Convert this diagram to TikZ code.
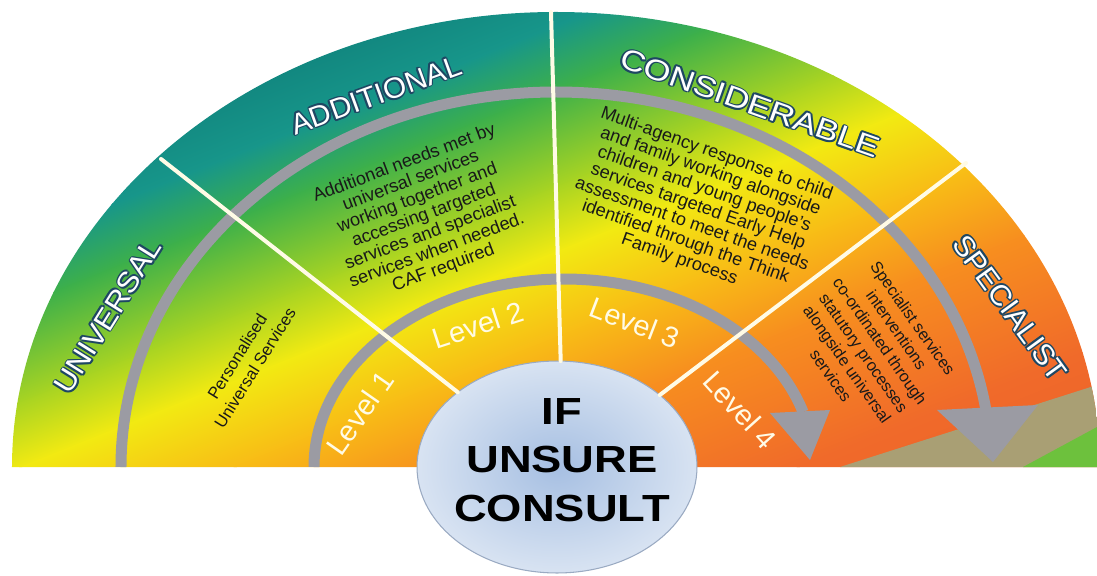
\documentclass[tikz,border=0pt]{standalone}
\usepackage{fontspec}
\setmainfont{Liberation Sans}
\usepackage{graphicx}
\usetikzlibrary{shapes.geometric}

\definecolor{fanteal}{HTML}{11857E}
\definecolor{fanteal2}{HTML}{17968A}
\definecolor{fangreen}{HTML}{3DB04A}
\definecolor{fanlime}{HTML}{A9D422}
\definecolor{fanyellow}{HTML}{F2EA12}
\definecolor{fanamber}{HTML}{F8BC16}
\definecolor{fanorange}{HTML}{F78E1F}
\definecolor{fanred}{HTML}{F06A2A}
\definecolor{fanred2}{HTML}{EC5E2A}
\definecolor{fanolive}{HTML}{A99F74}
\definecolor{fangrass}{HTML}{6DC13D}
\definecolor{arcgray}{HTML}{9B9BA3}
\definecolor{divwhite}{HTML}{FFFBE6}
\definecolor{lbledge}{HTML}{1E4763}
\definecolor{hubin}{HTML}{A6BFE2}
\definecolor{hubout}{HTML}{D8E3F2}
\definecolor{hubedge}{HTML}{9AAAC2}

% white capitals with a dark rim
\newcommand{\bandtext}[1]{%
  \rlap{\kern0.9pt\textcolor{lbledge}{#1}}%
  \rlap{\kern-0.9pt\textcolor{lbledge}{#1}}%
  \rlap{\raisebox{0.9pt}{\textcolor{lbledge}{#1}}}%
  \rlap{\raisebox{-0.9pt}{\textcolor{lbledge}{#1}}}%
  \rlap{\kern0.65pt\raisebox{0.65pt}{\textcolor{lbledge}{#1}}}%
  \rlap{\kern-0.65pt\raisebox{0.65pt}{\textcolor{lbledge}{#1}}}%
  \rlap{\kern0.65pt\raisebox{-0.65pt}{\textcolor{lbledge}{#1}}}%
  \rlap{\kern-0.65pt\raisebox{-0.65pt}{\textcolor{lbledge}{#1}}}%
  \textcolor{white}{#1}}
\newcommand{\hubwide}[1]{\scalebox{1.2}[1]{#1}}

\begin{document}
\begin{tikzpicture}[x=0.02cm,y=0.02cm,line cap=round,
    bandlbl/.style={inner sep=0pt,font=\fontsize{16.5}{18}\selectfont},
    bodytxt/.style={inner sep=0pt,align=center,text=black!90,font=\fontsize{10.3}{10.6}\selectfont},
    smalltxt/.style={inner sep=0pt,align=center,text=black!90,font=\fontsize{9.3}{11.4}\selectfont},
    lvl/.style={inner sep=0pt,text=divwhite,font=\fontsize{16.5}{18}\selectfont},
    grayarc/.style={arcgray,line width=0.22cm,line cap=butt},
    divider/.style={divwhite,line width=0.08cm}]
  % fix the size of the picture
  \useasboundingbox (-556,-108) rectangle (541,467);
  % colour the fan
  \begin{scope}
    \clip (-544,0) arc[start angle=180,end angle=0,x radius=544,y radius=455] -- cycle;
    \begin{scope}[transform canvas={rotate=-68.1}]
      \foreach \ua/\ub/\ca/\cb in {
          -480/-410/fanteal/fanteal2,
          -410/-350/fanteal2/fangreen,
          -350/-260/fangreen/fanlime,
          -260/-200/fanlime/fanyellow,
          -200/-120/fanyellow/fanamber,
          -120/-40/fanamber/fanorange,
          -40/90/fanorange/fanred,
          90/240/fanred/fanred2}
        \shade[left color=\ca,right color=\cb] (\ua,-700) rectangle (\ub+1,700);
    \end{scope}
    % odd patch at the bottom right
    \fill[fanolive] (284,0) -- (541,82) -- (570,82) -- (570,0) -- cycle;
    \fill[fangrass] (467,0) -- (541,40) -- (570,40) -- (570,0) -- cycle;
  \end{scope}

  % gray arrows round the fan
  \draw[grayarc] (-435,0) arc[start angle=180,end angle=8.7,x radius=435,y radius=375];
  \fill[arcgray] (381,57) -- (482,62) -- (437,5) -- cycle;
  \draw[grayarc] (-242,0) arc[start angle=180,end angle=17,x radius=250,y radius=188];
  \fill[arcgray] (214,54) -- (274,57) -- (254,7) -- cycle;

  % the hub
  \node[ellipse,minimum width=5.6cm,minimum height=4.24cm,inner sep=0pt,outer sep=0pt,
        draw=hubedge,line width=0.6pt,inner color=hubin,outer color=hubout] (hub) at (1,0) {};
  \node[inner sep=0pt,align=center,font=\fontsize{21.5}{27.6}\selectfont\bfseries] (hubtext) at (6,7)
    {\hubwide{IF}\\\hubwide{UNSURE}\\\hubwide{CONSULT}};

  % dividers between the bands
  \coordinate (rimA) at (-395,308);
  \coordinate (rimB) at (-5,455);
  \coordinate (rimC) at (410,304);
  \draw[divider] (rimA) -- (hub.143);
  \draw[divider] (rimB) -- (hub.88);
  \draw[divider] (rimC) -- (hub.35);

  % band names
  \foreach \nm/\x/\y/\a/\s/\txt in {
      univ/-448/151/58/1.07/UNIVERSAL,
      addl/-180/372/20/1.03/ADDITIONAL,
      cons/194/364/-19.5/1.2/CONSIDERABLE,
      spec/454/159/-54/1.03/SPECIALIST}
    \node[bandlbl,rotate=\a] (\nm) at (\x,\y) {\scalebox{\s}[1]{\bandtext{\txt}}};

  % levels
  \foreach \n/\x/\y/\a in {1/-196/54/55,2/-78/142/18,3/79/144/-21,4/184/57/-48}
    \node[lvl,rotate=\a] (lvl\n) at (\x,\y) {Level \n};

  % what each band means
  \node[smalltxt,rotate=58,font=\fontsize{9.5}{12}\selectfont] (univtxt) at (-310,105)
    {Personalised\\Universal Services};
  \node[bodytxt,rotate=20.5] (addltxt) at (-132,251)
    {Additional needs met by\\universal services\\working together and\\accessing targeted\\services and specialist\\services when needed.\\CAF required};
  \node[bodytxt,rotate=-19.5] (constxt) at (142,260)
    {Multi-agency response to child\\and family working alongside\\children and young people's\\services targeted Early Help\\assessment to meet the needs\\identified through the Think\\Family process};
  \node[smalltxt,rotate=-55] (spectxt) at (316,120)
    {Specialist services\\interventions\\co-ordinated through\\statutory processes\\alongside universal\\services};
\end{tikzpicture}
\end{document}
